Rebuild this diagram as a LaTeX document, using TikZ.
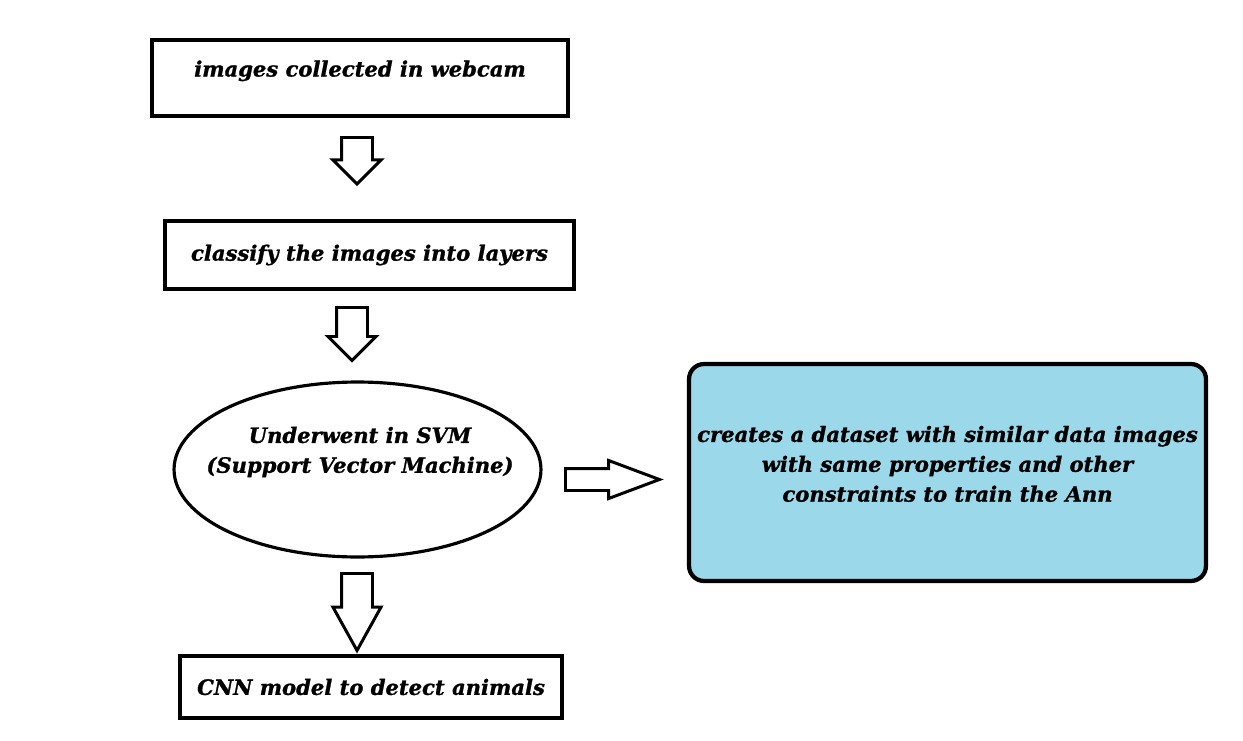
\documentclass[tikz,border=0pt]{standalone}
\usepackage{fontspec}
\setmainfont{DejaVu Serif}[BoldItalicFeatures={FakeBold=1.2}]
\usetikzlibrary{shapes.geometric,shapes.arrows}
\definecolor{dataBlue}{HTML}{9AD8EA}
\tikzset{
  flowtext/.style={font=\bfseries\itshape\fontsize{12}{17}\selectfont,align=center},
  flowbox/.style={draw,line width=2.4pt,flowtext,inner sep=0pt},
  blockarrow/.style={single arrow,draw,line width=1.7pt,inner sep=0.28cm,anchor=tail,
    single arrow head extend=0.17cm,shape border rotate=270}
}
\begin{document}
\begin{tikzpicture}[x=0.02cm,y=-0.02cm]
\useasboundingbox (0,0) rectangle (1243,740);
\node[flowbox,minimum width=8.32cm,minimum height=1.52cm,text depth=0.38cm] (collect) at (360,78) {images collected in webcam};
\node[flowbox,minimum width=8.18cm,minimum height=1.36cm] (classify) at (369.5,255) {classify the images into layers};
\node[ellipse,draw,line width=1.8pt,minimum width=7.34cm,minimum height=3.5cm,inner sep=0pt] (svm) at (357.5,469.5) {};
\node[flowtext] (svmtext) at (360,452) {Underwent in SVM\\(Support Vector Machine)};
\node[flowbox,rounded corners=0.3cm,fill=dataBlue,minimum width=10.34cm,minimum height=4.34cm,text depth=0.35cm] (dataset) at (947.5,472.5)
  {creates a dataset with similar data images\\with same properties and other\\constraints to train the Ann};
\node[flowbox,minimum width=7.64cm,minimum height=1.24cm] (cnn) at (371,687) {CNN model to detect animals};
% block arrows between the steps
\node[blockarrow,minimum height=0.9cm] (arrowA) at (357,136) {};
\node[blockarrow,minimum height=1.06cm] (arrowB) at (352,306) {};
\node[blockarrow,minimum height=1.54cm,single arrow tip angle=58] (arrowC) at (357,572) {};
\node[blockarrow,minimum height=1.88cm,inner sep=0.19cm,single arrow head extend=0.16cm,
  single arrow tip angle=41,shape border rotate=0] (arrowD) at (564,479.5) {};
\end{tikzpicture}
\end{document}
